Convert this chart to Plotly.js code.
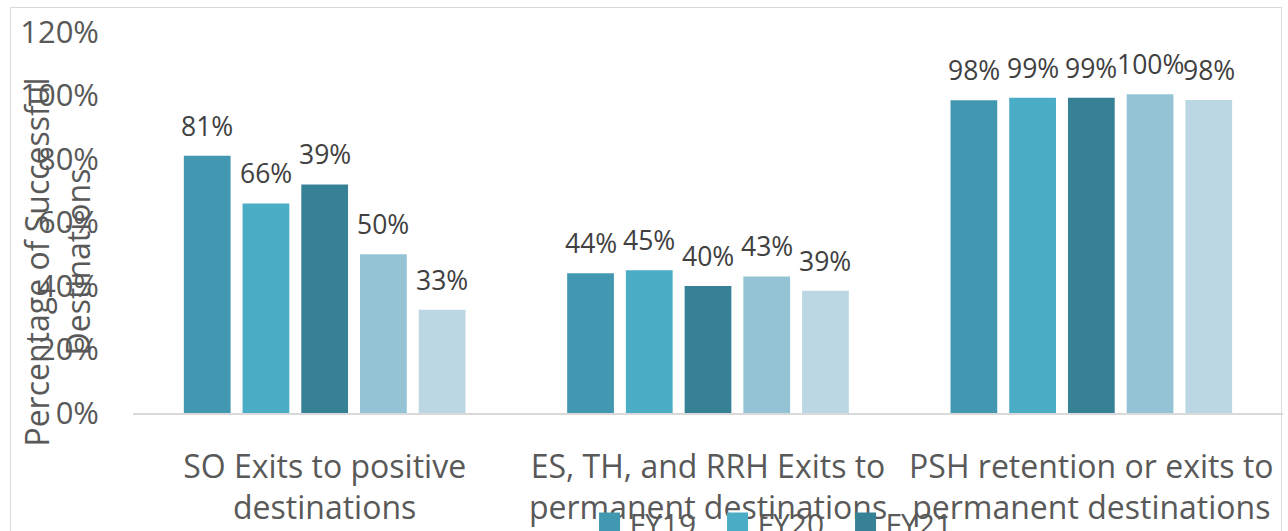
<!DOCTYPE html>
<html>
<head>
<meta charset="utf-8">
<script src="https://cdn.plot.ly/plotly-3.0.1.min.js"></script>
<style>
  html, body { margin: 0; padding: 0; overflow: hidden; background: #fff; }
  #chart { width: 1288px; height: 560px; }
  #frame { position: absolute; left: 10px; top: 7px; width: 1270px; height: 600px;
           border: 1.5px solid #d9d9d9; pointer-events: none; }
</style>
</head>
<body>
<div id="chart"></div>
<div id="frame"></div>
<script>
// ---- data ----
const categories = [
  'SO Exits to positive destinations',
  'ES, TH, and RRH Exits to permanent destinations',
  'PSH retention or exits to permanent destinations'
];
const labelLine1 = ['SO Exits to positive', 'ES, TH, and RRH Exits to', 'PSH retention or exits to'];
const labelLine2 = ['destinations', 'permanent destinations', 'permanent destinations'];

const seriesNames = ['FY19', 'FY20', 'FY21', 'FY22', 'FY23'];
const fy19 = [81, 44, 98.5];
const fy20 = [66, 45, 99.3];
const fy21 = [72, 40, 99.3];
const fy22 = [50, 43, 100.4];
const fy23 = [32.5, 38.5, 98.6];
const fy19Labels = ['81%', '44%', '98%'];
const fy20Labels = ['66%', '45%', '99%'];
const fy21Labels = ['39%', '40%', '99%'];
const fy22Labels = ['50%', '43%', '100%'];
const fy23Labels = ['33%', '39%', '98%'];
const inLegend = [true, true, true, false, false];

const seriesValues = [fy19, fy20, fy21, fy22, fy23];
const seriesLabels = [fy19Labels, fy20Labels, fy21Labels, fy22Labels, fy23Labels];
const colors = ['#4298B0', '#4BACC6', '#368195', '#93C3D4', '#BBD7E3'];

const yTitle = 'Percentage of Successful<br>Destinations';

// ---- styling ----
const FONT = 'Open Sans, Noto Sans, sans-serif';
const BARGAP = 0.234;
const BARGROUPGAP = 0.204;
const nSeries = seriesNames.length;

const traces = [];
seriesNames.forEach((name, i) => {
  traces.push({
    type: 'bar',
    name: name,
    x: categories,
    y: seriesValues[i],
    marker: { color: colors[i], line: { width: 0 } },
    showlegend: false,
    hoverinfo: 'x+y+name'
  });
});
// legend-only entries (bigger square swatches)
seriesNames.forEach((name, i) => {
  if (!inLegend[i]) return;
  traces.push({
    type: 'scatter',
    mode: 'markers',
    name: name,
    x: [null],
    y: [null],
    marker: { symbol: 'square', size: 16, color: colors[i], line: { width: 5, color: colors[i] } },
    showlegend: true
  });
});

// data labels
const annotations = [];
const slot = (1 - BARGAP) / nSeries;
seriesNames.forEach((name, i) => {
  const off = (i - (nSeries - 1) / 2) * slot;
  seriesValues[i].forEach((v, j) => {
    annotations.push({
      x: j + off, y: v, xref: 'x', yref: 'y',
      text: seriesLabels[i][j],
      showarrow: false,
      xanchor: 'center', yanchor: 'bottom',
      yshift: 10,
      font: { family: FONT, size: 26.5, color: '#404040' }
    });
  });
});
// y-axis title (overlaps tick labels as in the original)
annotations.push({
  xref: 'paper', yref: 'paper',
  x: -0.066, y: 0.395,
  xanchor: 'center', yanchor: 'middle',
  textangle: -90,
  text: yTitle,
  showarrow: false,
  font: { family: FONT, size: 32, color: '#595959' }
});

const layout = {
  width: 1288, height: 560,
  margin: { l: 133, r: 5, t: 31.5, b: 146.5, pad: 0 },
  paper_bgcolor: '#ffffff',
  plot_bgcolor: '#ffffff',
  barmode: 'group',
  bargap: BARGAP,
  bargroupgap: BARGROUPGAP,
  font: { family: FONT, color: '#595959' },
  xaxis: {
    type: 'category',
    tickmode: 'array',
    tickvals: categories,
    ticktext: labelLine1,
    ticks: '',
    ticklabelstandoff: 25,
    tickfont: { family: FONT, size: 32, color: '#595959' },
    showline: true, linecolor: '#d9d9d9', linewidth: 2,
    showgrid: false, zeroline: false, fixedrange: true
  },
  xaxis2: {
    type: 'linear',
    overlaying: 'x',
    anchor: 'y',
    side: 'bottom',
    range: [-0.5, categories.length - 0.5],
    tickmode: 'array',
    tickvals: categories.map((c, j) => j),
    ticktext: labelLine2,
    ticks: '',
    ticklabelstandoff: 73,
    tickfont: { family: FONT, size: 32, color: '#595959' },
    showline: false, showgrid: false, zeroline: false, fixedrange: true
  },
  yaxis: {
    range: [0, 120],
    dtick: 20,
    ticksuffix: '%',
    ticks: '',
    ticklabelstandoff: 33,
    tickfont: { family: FONT, size: 31, color: '#595959' },
    showgrid: false, zeroline: false, showline: false, fixedrange: true
  },
  showlegend: true,
  legend: {
    orientation: 'h',
    x: 0.397, xanchor: 'left',
    y: -0.289, yanchor: 'middle',
    font: { family: FONT, size: 30, color: '#595959' },
    entrywidth: 83,
    bgcolor: 'rgba(0,0,0,0)'
  },
  annotations: annotations
};

// dummy trace to bind xaxis2
traces.push({ type: 'scatter', x: [null], y: [null], xaxis: 'x2', yaxis: 'y', showlegend: false, hoverinfo: 'skip' });

Plotly.newPlot('chart', traces, layout, { displayModeBar: false, staticPlot: true });
</script>
</body>
</html>
